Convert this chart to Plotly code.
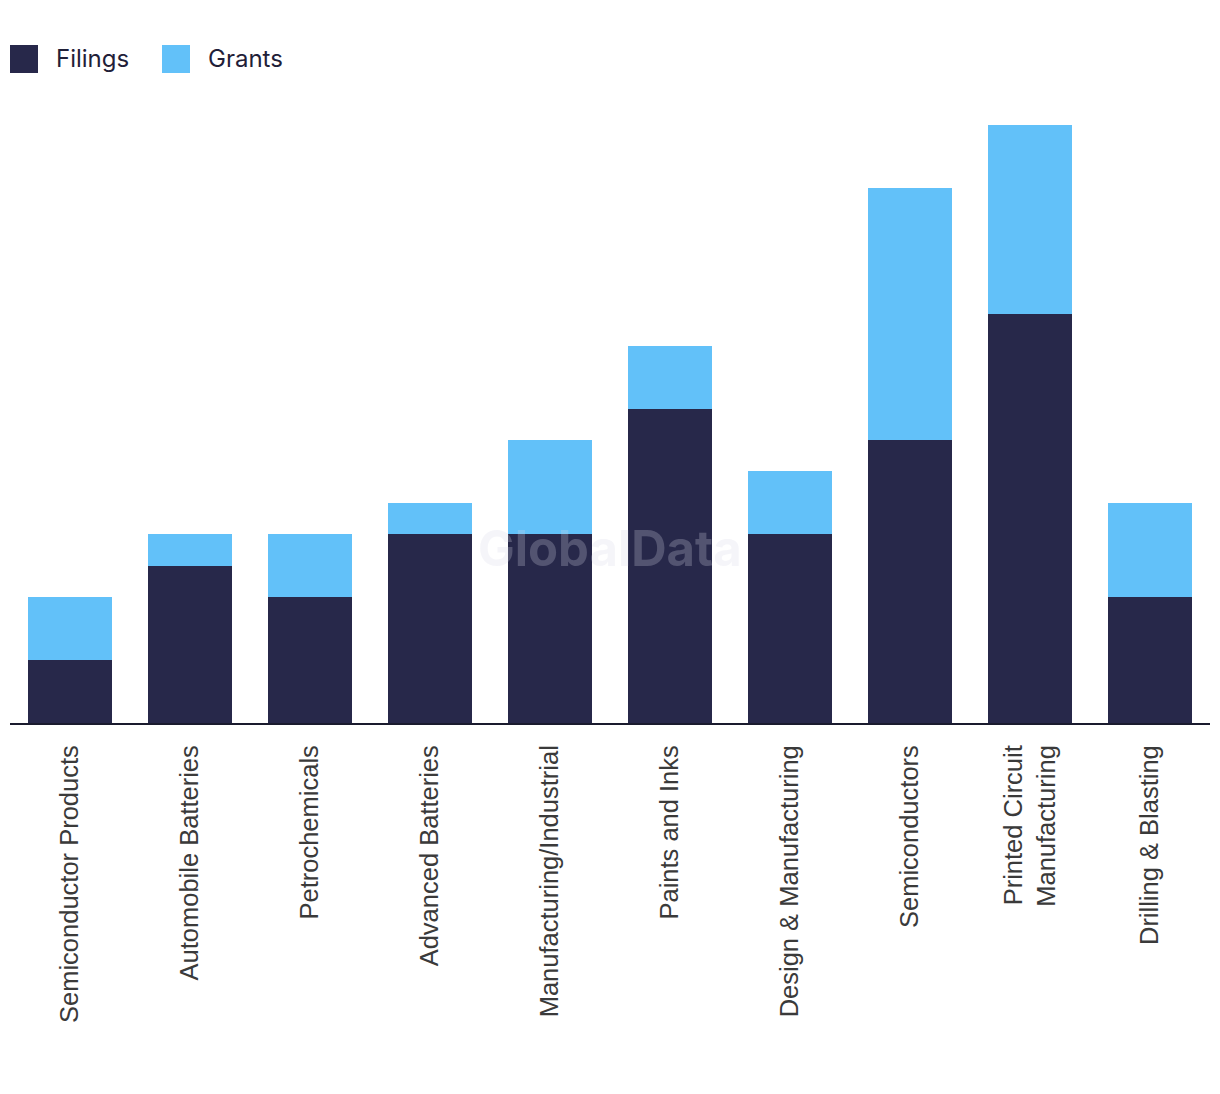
import plotly.graph_objects as go

categories = [
    "Semiconductor Products", "Automobile Batteries", "Petrochemicals",
    "Advanced Batteries", "Manufacturing/Industrial", "Paints and Inks",
    "Design & Manufacturing", "Semiconductors",
    "Printed Circuit<br>Manufacturing", "Drilling & Blasting",
]
filings = [2, 5, 4, 6, 6, 10, 6, 9, 13, 4]
grants = [2, 1, 2, 1, 3, 2, 2, 8, 6, 3]

NAVY = "#27284a"
BLUE = "#62c1f9"

# page body adds an 8px offset; compensate in margins
OFF = 8
W, H = 1220, 1094
ML, MT = 10 - OFF, 94 - OFF
PW, PH = 1200, 629
MR = W - ML - PW
MB = H - MT - PH


def px(x):
    return (x - OFF - ML) / PW


def py(y):
    return (MT + PH - (y - OFF)) / PH


fig = go.Figure()
fig.add_trace(go.Bar(x=categories, y=filings, name="Filings",
                     marker=dict(color=NAVY, line=dict(width=0))))
fig.add_trace(go.Bar(x=categories, y=grants, name="Grants",
                     marker=dict(color=BLUE, line=dict(width=0))))

shapes = []
annotations = []
for sx, tx, name, col in [(10, 54, "Filings", NAVY), (162, 206, "Grants", BLUE)]:
    shapes.append(dict(type="rect", xref="paper", yref="paper",
                       x0=px(sx), x1=px(sx + 28), y0=py(73), y1=py(45),
                       fillcolor=col, line=dict(width=0)))
    annotations.append(dict(xref="paper", yref="paper", x=px(tx), y=py(58),
                            text=name, showarrow=False, xanchor="left",
                            yanchor="middle",
                            font=dict(family="Inter, Roboto, sans-serif",
                                      size=24, color="#1f2038")))

annotations.append(dict(xref="paper", yref="paper", x=px(610), y=py(548),
                        text="<b>GlobalData</b>", showarrow=False,
                        xanchor="center", yanchor="middle",
                        font=dict(family="Inter, Roboto, sans-serif", size=49,
                                  color="rgba(215,215,230,0.25)")))

fig.update_layout(
    barmode="stack",
    bargap=0.3,
    width=W, height=H,
    margin=dict(l=ML, r=MR, t=MT, b=MB),
    paper_bgcolor="white",
    plot_bgcolor="white",
    showlegend=False,
    shapes=shapes,
    annotations=annotations,
    xaxis=dict(
        tickangle=-90,
        tickfont=dict(family="Liberation Sans, Arial, sans-serif", size=25.5,
                      color="#3a3a3a"),
        showline=True, linecolor="#1a1b2e", linewidth=2,
        ticks="outside", ticklen=10, tickcolor="rgba(0,0,0,0)",
        showgrid=False,
    ),
    yaxis=dict(range=[0, 20], visible=False, showgrid=False),
)

fig.write_html("out.html")
